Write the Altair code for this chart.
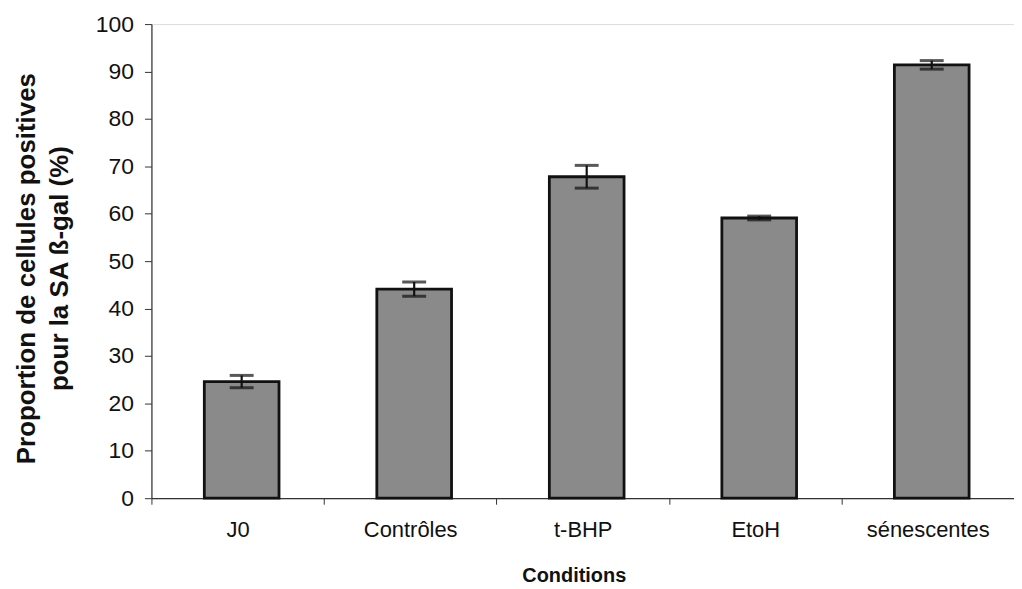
import altair as alt
import pandas as pd

categories = ["J0", "Contrôles", "t-BHP", "EtoH", "sénescentes"]
values = [24.6, 44.1, 67.8, 59.1, 91.4]
errors = [1.3, 1.5, 2.4, 0.4, 0.9]

df = pd.DataFrame({"cat": categories, "val": values, "err": errors})
df["lo"] = df["val"] - df["err"]
df["hi"] = df["val"] + df["err"]

FONT = "Liberation Sans"

x = alt.X("cat:N", sort=categories,
          scale=alt.Scale(paddingInner=0, paddingOuter=0),
          axis=alt.Axis(title="Conditions", labelAngle=0, tickBand="extent",
                        labelFontSize=22, labelFont=FONT, labelColor="#111",
                        labelPadding=15, tickSize=6, tickColor="#333",
                        domainColor="#333", domainWidth=1.2,
                        titleFont=FONT, titleFontSize=20, titleFontWeight="bold",
                        titleColor="#111", titleY=84, titleBaseline="alphabetic",
                        titleX=424, labelFlush=False))

y = alt.Y("val:Q", scale=alt.Scale(domain=[0, 100], nice=False),
          axis=alt.Axis(title=["Proportion de cellules positives", "pour la SA ß-gal (%)"],
                        values=list(range(0, 101, 10)), grid=False,
                        labelFontSize=23, labelFont=FONT, labelColor="#111",
                        labelPadding=11, tickSize=7, tickColor="#333",
                        domainColor="#333", domainWidth=1.2,
                        titleFont=FONT, titleFontSize=26, titleFontWeight="bold",
                        titleColor="#111", titleAngle=-90, titleBaseline="middle",
                        titleLineHeight=33, titleX=-125, titleY=245))

base = alt.Chart(df)
XO = 4

bars = base.mark_bar(size=75, color="#8a8a8a", stroke="#111", strokeWidth=2.8, xOffset=XO).encode(x=x, y=y)
rule = base.mark_rule(color="#111", strokeWidth=2.2, xOffset=XO).encode(x=alt.X("cat:N", sort=categories), y="lo:Q", y2="hi:Q")
cap_hi = base.mark_tick(color="#111", size=24, thickness=3, xOffset=XO).encode(x=alt.X("cat:N", sort=categories), y="hi:Q")
cap_lo = base.mark_tick(color="#111", size=24, thickness=3, xOffset=XO).encode(x=alt.X("cat:N", sort=categories), y="lo:Q")

chart = alt.layer(bars, rule, cap_hi, cap_lo).properties(
    width=866, height=476,
    autosize=alt.AutoSizeParams(type="none"),
    padding={"left": 144, "top": 15, "right": 0, "bottom": 88},
).configure_view(stroke=None).configure(background="white")

chart.save("out.html", embed_options={"renderer": "svg", "actions": False})
